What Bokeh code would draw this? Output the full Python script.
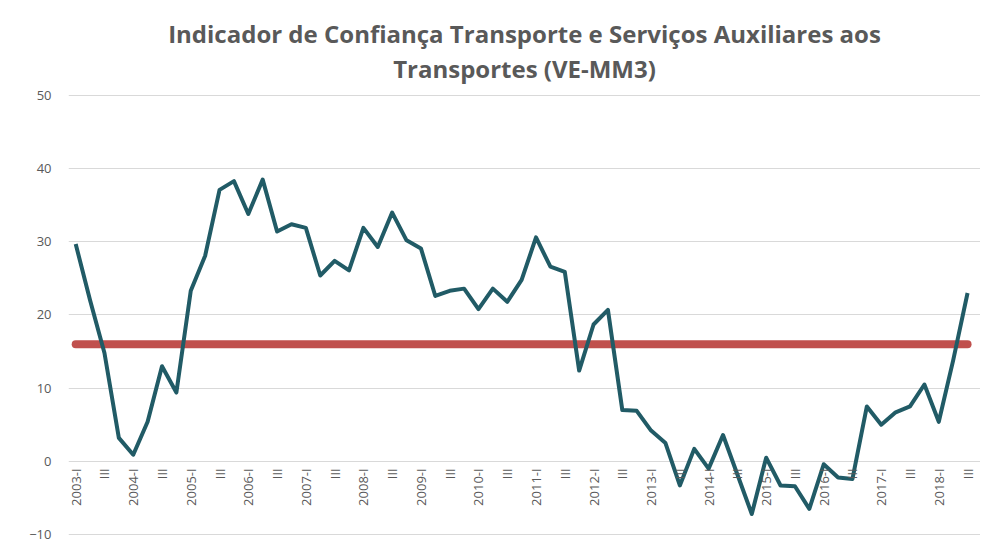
from math import pi
from bokeh.plotting import figure
from bokeh.models import ColumnDataSource, FixedTicker, Title
from bokeh.core.properties import value
from bokeh.embed import file_html
from bokeh.resources import INLINE

# ---- data ----
quarters = []
for yr in range(2003, 2019):
    for q in ["I", "II", "III", "IV"]:
        quarters.append(f"{yr}-{q}")
quarters = quarters[:63]  # 2003-I .. 2018-III

indicator = [29.7, 22.0, 14.8, 3.2, 0.9, 5.4, 13.0, 9.4,
             23.3, 28.1, 37.1, 38.3, 33.8, 38.5, 31.4, 32.4,
             31.9, 25.4, 27.4, 26.1, 31.9, 29.3, 34.0, 30.2,
             29.1, 22.6, 23.3, 23.6, 20.8, 23.6, 21.8, 24.8,
             30.6, 26.6, 25.9, 12.4, 18.7, 20.7, 7.0, 6.9,
             4.2, 2.5, -3.3, 1.7, -1.0, 3.6, -1.8, -7.2,
             0.5, -3.3, -3.4, -6.5, -0.4, -2.2, -2.4, 7.5,
             5.0, 6.7, 7.5, 10.5, 5.4, 13.8, 23.0]
threshold = 16.0
y_ticks = [-10, 0, 10, 20, 30, 40, 50]
title_lines = ["Indicador de Confiança Transporte e Serviços Auxiliares aos",
               "Transportes (VE-MM3)"]

idx = list(range(len(quarters)))
tick_idx = idx[::2]
tick_labels = [q if q.endswith("-I") else "III" for q in quarters[::2]]

FONT = "Open Sans"
GREY = "#595959"

p = figure(width=980, height=543, output_backend="svg", toolbar_location=None,
           x_range=(-0.5, 62.9), y_range=(-11.23, 51.5),
           min_border_left=68, min_border_right=0, min_border_bottom=0,
           min_border_top=84)
p.title = None
# added bottom line first so that the first line stacks above it
for line_text in reversed(title_lines):
    p.add_layout(Title(text=line_text, align="center", text_font=FONT,
                       text_font_size="24px", text_font_style="bold",
                       text_color=GREY, standoff=0), "above")

p.outline_line_color = None
p.xgrid.grid_line_color = None
p.xaxis.visible = False
p.yaxis.ticker = FixedTicker(ticks=y_ticks)
p.ygrid.grid_line_color = "#D9D9D9"
p.ygrid.grid_line_width = 1
p.yaxis.axis_line_color = None
p.yaxis.major_tick_line_color = None
p.yaxis.minor_tick_line_color = None
p.yaxis.major_label_standoff = 11
p.yaxis.major_label_text_font = FONT
p.yaxis.major_label_text_font_size = "13px"
p.yaxis.major_label_text_color = GREY

# threshold line
p.line(x=[idx[0], idx[-1]], y=[threshold, threshold], line_color="#C0504D",
       line_width=8, line_cap="round")

# data line
p.line(x=idx, y=indicator, line_color="#215B66", line_width=4, line_join="round")

# category labels at the axis crossing (y=0)
src = ColumnDataSource(dict(x=tick_idx, y=[0] * len(tick_idx), t=tick_labels))
p.text(x="x", y="y", text="t", source=src, angle=pi / 2, text_align="right",
       text_baseline="middle", y_offset=7, text_font=value(FONT),
       text_font_size="13px", text_color=GREY)

open("out.html", "w").write(file_html(p, INLINE))
